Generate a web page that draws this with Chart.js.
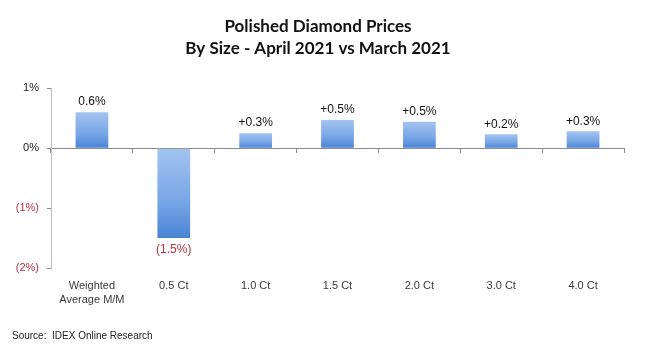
<!DOCTYPE html>
<html><head><meta charset="utf-8">
<script src="https://cdn.jsdelivr.net/npm/chart.js@4"></script>
<style>html,body{margin:0;padding:0;background:#fff}#wrap{width:645px;height:358px}</style>
</head><body><div id="wrap"><canvas id="c" width="645" height="358"></canvas></div>
<script>
const categories = [["Weighted","Average M/M"], "0.5 Ct", "1.0 Ct", "1.5 Ct", "2.0 Ct", "3.0 Ct", "4.0 Ct"];
const values = [0.6, -1.5, 0.25, 0.47, 0.44, 0.23, 0.28];
const valueLabels = ["0.6%", "(1.5%)", "+0.3%", "+0.5%", "+0.5%", "+0.2%", "+0.3%"];
const yTicks = [1, 0, -1, -2];
const yTickLabels = ["1%", "0%", "(1%)", "(2%)"];
const titleLines = ["Polished Diamond Prices", "By Size - April 2021 vs March 2021"];
const sourceText = "Source:  IDEX Online Research";

const RED = "#b2333f";

const labelPlugin = {
  id: "valueLabels",
  afterDatasetsDraw(chart) {
    const ctx = chart.ctx;
    const meta = chart.getDatasetMeta(0);
    ctx.save();
    ctx.font = "12px 'Liberation Sans', Arial, sans-serif";
    ctx.textAlign = "center";
    meta.data.forEach((bar, i) => {
      const v = values[i];
      if (v >= 0) {
        ctx.fillStyle = "#111";
        ctx.textBaseline = "bottom";
        ctx.fillText(valueLabels[i], bar.x, bar.y - 4);
      } else {
        ctx.fillStyle = RED;
        ctx.textBaseline = "top";
        ctx.fillText(valueLabels[i], bar.x, bar.y + 6);
      }
    });
    ctx.restore();
  }
};

function barGradient(context) {
  const chart = context.chart;
  const ys = chart.scales.y;
  if (!ys || context.dataIndex === undefined) return "#6f9fe3";
  const v = values[context.dataIndex];
  const p1 = ys.getPixelForValue(Math.max(v, 0));
  const p2 = ys.getPixelForValue(Math.min(v, 0));
  if (!isFinite(p1) || !isFinite(p2) || p1 === p2) return "#6f9fe3";
  const g = chart.ctx.createLinearGradient(0, p1, 0, p2);
  g.addColorStop(0, "#a3c4f0");
  g.addColorStop(0.6, "#77a5e6");
  g.addColorStop(1, "#4a84d5");
  return g;
}

new Chart(document.getElementById("c"), {
  type: "bar",
  data: {
    labels: categories,
    datasets: [{
      data: values,
      backgroundColor: barGradient,
      borderWidth: 0,
      barPercentage: 0.4,
      categoryPercentage: 1.0
    }]
  },
  options: {
    responsive: false,
    animation: false,
    layout: { padding: { left: 12, right: 21, top: 0, bottom: 16 } },
    plugins: {
      legend: { display: false },
      tooltip: { enabled: false },
      title: {
        display: true,
        text: titleLines,
        color: "#111",
        font: { family: "Lato, 'Open Sans', sans-serif", size: 17, weight: "bold", lineHeight: 1.3 },
        padding: { top: 15, bottom: 29 }
      },
      subtitle: {
        display: true,
        position: "bottom",
        align: "start",
        text: sourceText,
        color: "#222",
        font: { family: "'Liberation Sans', Arial, sans-serif", size: 10, lineHeight: 1.2 },
        padding: { top: 12, bottom: 0 }
      }
    },
    scales: {
      x: {
        type: "category",
        position: "bottom",
        offset: true,
        grid: { display: false, drawTicks: false },
        border: { display: false },
        ticks: {
          color: "#3a3a3a",
          padding: 11,
          maxRotation: 0,
          autoSkip: false,
          font: { family: "'Liberation Sans', Arial, sans-serif", size: 11, lineHeight: 1.3 }
        },
        afterFit(scale) { scale.height = 50; }
      },
      x2: {
        type: "category",
        labels: categories,
        axis: "x",
        position: { y: 0 },
        offset: true,
        grid: { display: true, drawOnChartArea: false, drawTicks: true, tickLength: 4, color: "#8a8a8a", offset: true },
        border: { display: true, color: "#8a8a8a", width: 1 },
        ticks: { display: false }
      },
      y: {
        min: -2,
        max: 1,
        afterBuildTicks(scale) { scale.ticks = yTicks.map(v => ({ value: v })); },
        grid: { display: true, drawOnChartArea: false, drawTicks: true, tickLength: 4, color: "#8a8a8a" },
        border: { display: true, color: "#bdbdbd", width: 1 },
        ticks: {
          padding: 8,
          color: (c) => (c.tick && c.tick.value < 0 ? RED : "#222"),
          font: { family: "'Liberation Sans', Arial, sans-serif", size: 11 },
          callback: (v) => yTickLabels[yTicks.indexOf(v)]
        },
        afterFit(scale) { scale.width = 39; }
      }
    }
  },
  plugins: [labelPlugin]
});
</script></body></html>
